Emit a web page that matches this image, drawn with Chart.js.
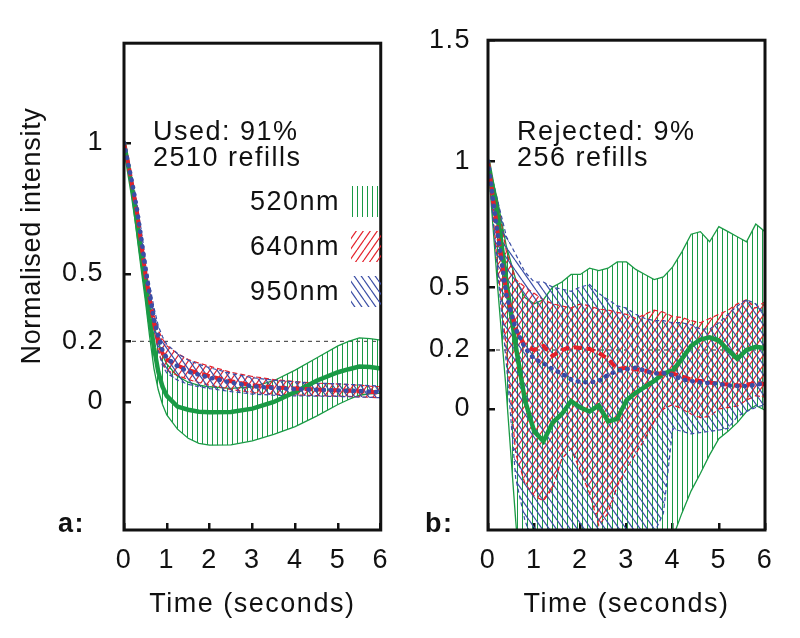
<!DOCTYPE html>
<html>
<head>
<meta charset="utf-8">
<script src="https://cdn.jsdelivr.net/npm/chart.js"></script>
<style>
  body { margin: 0; background: #fff; }
  #wrap { position: relative; width: 800px; height: 638px; }
  canvas { position: absolute; top: 0; }
  #chartA { left: 0; }
  #chartB { left: 410px; }
</style>
</head>
<body>
<div id="wrap">
  <canvas id="chartA" width="410" height="638"></canvas>
  <canvas id="chartB" width="390" height="638"></canvas>
</div>
<script>
// ---- panel a: used refills ----
const timeA = [0, 0.1, 0.2, 0.3, 0.4, 0.5, 0.6, 0.7, 0.8, 0.9, 1.0, 1.25, 1.5, 1.75, 2, 2.5, 3, 3.5, 4, 4.5, 5, 5.25, 5.5, 5.75, 6];
const greenMeanA  = [1, 0.91, 0.81, 0.7, 0.58, 0.46, 0.3, 0.18, 0.1, 0.05, 0.02, -0.018, -0.03, -0.038, -0.04, -0.039, -0.026, 0.0, 0.033, 0.07, 0.098, 0.108, 0.117, 0.115, 0.11];
const greenUpperA = [1, 0.92, 0.83, 0.73, 0.62, 0.5, 0.38, 0.27, 0.2, 0.155, 0.125, 0.085, 0.065, 0.055, 0.05, 0.045, 0.05, 0.07, 0.105, 0.145, 0.185, 0.2, 0.215, 0.212, 0.205];
const greenLowerA = [1, 0.9, 0.78, 0.65, 0.52, 0.38, 0.22, 0.11, 0.04, -0.01, -0.05, -0.105, -0.14, -0.16, -0.167, -0.166, -0.15, -0.125, -0.095, -0.055, -0.01, 0.008, 0.022, 0.027, 0.029];
const redMeanA  = [1, 0.92, 0.83, 0.74, 0.62, 0.5, 0.39, 0.28, 0.2, 0.16, 0.14, 0.12, 0.105, 0.095, 0.085, 0.068, 0.055, 0.048, 0.044, 0.041, 0.038, 0.037, 0.035, 0.033, 0.031];
const redUpperA = [1, 0.93, 0.85, 0.76, 0.65, 0.53, 0.42, 0.32, 0.25, 0.21, 0.185, 0.16, 0.14, 0.128, 0.118, 0.098, 0.084, 0.074, 0.067, 0.062, 0.059, 0.057, 0.055, 0.052, 0.05];
const redLowerA = [1, 0.91, 0.81, 0.71, 0.59, 0.47, 0.36, 0.25, 0.17, 0.125, 0.105, 0.087, 0.074, 0.064, 0.055, 0.041, 0.031, 0.026, 0.023, 0.021, 0.019, 0.018, 0.017, 0.015, 0.014];
const blueMeanA  = [1, 0.92, 0.84, 0.75, 0.64, 0.52, 0.41, 0.3, 0.22, 0.17, 0.145, 0.118, 0.1, 0.09, 0.08, 0.064, 0.052, 0.046, 0.042, 0.04, 0.038, 0.037, 0.036, 0.034, 0.032];
const blueUpperA = [1, 0.93, 0.86, 0.77, 0.67, 0.56, 0.45, 0.35, 0.27, 0.22, 0.19, 0.16, 0.138, 0.124, 0.113, 0.094, 0.08, 0.072, 0.066, 0.062, 0.06, 0.058, 0.056, 0.054, 0.052];
const blueLowerA = [1, 0.91, 0.82, 0.72, 0.61, 0.48, 0.37, 0.26, 0.17, 0.12, 0.095, 0.072, 0.058, 0.05, 0.044, 0.034, 0.026, 0.022, 0.02, 0.019, 0.018, 0.017, 0.016, 0.015, 0.014];

// ---- panel b: rejected refills ----
const timeB = [0, 0.2, 0.4, 0.6, 0.8, 1.0, 1.2, 1.4, 1.6, 1.8, 2.0, 2.2, 2.4, 2.6, 2.8, 3.0, 3.2, 3.4, 3.6, 3.8, 4.0, 4.2, 4.4, 4.6, 4.8, 5.0, 5.2, 5.4, 5.6, 5.8, 6.0];
const greenMeanB  = [1, 0.8, 0.52, 0.22, 0.03, -0.09, -0.13, -0.055, -0.02, 0.027, 0.005, -0.01, 0.012, -0.05, -0.04, 0.03, 0.055, 0.075, 0.095, 0.12, 0.13, 0.17, 0.22, 0.25, 0.26, 0.245, 0.2, 0.17, 0.2, 0.215, 0.21];
const greenUpperB = [1, 0.85, 0.66, 0.53, 0.45, 0.42, 0.44, 0.5, 0.52, 0.55, 0.55, 0.575, 0.565, 0.575, 0.6, 0.6, 0.57, 0.55, 0.53, 0.54, 0.58, 0.64, 0.71, 0.72, 0.68, 0.74, 0.72, 0.7, 0.68, 0.75, 0.72];
const greenLowerB = [1, 0.52, 0.05, -0.45, -0.9, -0.95, -1.0, -1.0, -0.98, -0.95, -0.95, -0.97, -1.0, -0.98, -0.95, -0.9, -0.85, -0.8, -0.72, -0.6, -0.52, -0.42, -0.33, -0.26, -0.185, -0.12, -0.09, -0.055, -0.01, 0.012, -0.005];
const redMeanB  = [1, 0.73, 0.47, 0.3, 0.22, 0.2, 0.22, 0.18, 0.2, 0.215, 0.21, 0.205, 0.19, 0.17, 0.135, 0.14, 0.135, 0.13, 0.12, 0.12, 0.12, 0.11, 0.1, 0.095, 0.09, 0.085, 0.083, 0.08, 0.082, 0.088, 0.085];
const redUpperB = [1, 0.84, 0.64, 0.53, 0.5, 0.47, 0.44, 0.42, 0.41, 0.4, 0.42, 0.41, 0.395, 0.39, 0.38, 0.37, 0.35, 0.37, 0.39, 0.38, 0.36, 0.355, 0.34, 0.33, 0.35, 0.37, 0.39, 0.42, 0.44, 0.4, 0.43];
const redLowerB = [1, 0.6, 0.2, -0.18, -0.3, -0.35, -0.37, -0.32, -0.2, -0.16, -0.25, -0.34, -0.47, -0.42, -0.31, -0.24, -0.18, -0.12, -0.05, 0.0, 0.015, 0.0, -0.02, -0.035, -0.03, 0.0, 0.005, 0.01, 0.03, 0.045, 0.04];
const blueMeanB  = [1, 0.72, 0.46, 0.3, 0.21, 0.17, 0.155, 0.135, 0.12, 0.1, 0.092, 0.09, 0.095, 0.115, 0.13, 0.135, 0.14, 0.13, 0.12, 0.122, 0.115, 0.1, 0.095, 0.09, 0.088, 0.085, 0.08, 0.078, 0.078, 0.082, 0.088];
const blueUpperB = [1, 0.85, 0.7, 0.63, 0.56, 0.52, 0.52, 0.5, 0.49, 0.48, 0.5, 0.51, 0.47, 0.44, 0.41, 0.4, 0.37, 0.35, 0.34, 0.34, 0.33, 0.33, 0.32, 0.3, 0.3, 0.33, 0.37, 0.41, 0.44, 0.42, 0.37];
const blueLowerB = [1, 0.58, 0.15, -0.28, -0.45, -0.55, -0.6, -0.62, -0.6, -0.6, -0.62, -0.6, -0.6, -0.58, -0.58, -0.56, -0.55, -0.52, -0.5, -0.42, -0.08, -0.09, -0.1, -0.095, -0.09, -0.085, -0.078, -0.03, -0.01, 0.005, 0.015];

const xTicks = [0, 1, 2, 3, 4, 5, 6];
const yTicksA = [0, 0.2, 0.5, 1];
const yTicksB = [0, 0.2, 0.5, 1, 1.5];
const refLevel = 0.2;
const seriesNames = ['520nm', '640nm', '950nm'];

const FONT = '"Liberation Sans", Arial, Helvetica, sans-serif';
const INK = '#111111';
const GREEN = '#1a9a45';
const RED = '#e4202a';
const BLUE = '#3a4ea6';

Chart.defaults.font.family = FONT;
Chart.defaults.font.size = 27;
Chart.defaults.color = INK;

// The original y axis is not evenly spaced between its ticks,
// so the scale maps values piecewise between these knots.
class WarpScale extends Chart.LinearScale {
    toDecimal(v) {
        const vals = this.options.knotValues;
        const fr = this.options.knotFracs;
        let i = 1;
        while (i < vals.length - 1 && v > vals[i]) i++;
        return fr[i - 1] + (v - vals[i - 1]) * (fr[i] - fr[i - 1]) / (vals[i] - vals[i - 1]);
    }
    getPixelForValue(v) {
        if (v === null || v === undefined || isNaN(v)) return NaN;
        return this.getPixelForDecimal(this.toDecimal(v));
    }
    getValueForPixel(p) {
        const d = this.getDecimalForPixel(p);
        const vals = this.options.knotValues;
        const fr = this.options.knotFracs;
        let i = 1;
        while (i < fr.length - 1 && d > fr[i]) i++;
        return vals[i - 1] + (d - fr[i - 1]) * (vals[i] - vals[i - 1]) / (fr[i] - fr[i - 1]);
    }
}
WarpScale.id = 'warp';
WarpScale.defaults = Chart.LinearScale.defaults;
Chart.register(WarpScale);

// Hatch patterns
function hatch(color, kind) {
    const c = document.createElement('canvas');
    const w = kind === 'v' ? 5 : 7;
    const h = kind === 'v' ? 5 : 10;
    c.width = w; c.height = h;
    const g = c.getContext('2d');
    g.strokeStyle = color;
    g.fillStyle = color;
    if (kind === 'v') {
        g.fillRect(2, 0, 1, h);
    } else {
        g.lineWidth = 1.25;
        for (let k = -1; k <= 1; k++) {
            g.beginPath();
            if (kind === '/') { g.moveTo(k * w, h); g.lineTo(k * w + w, 0); }
            else { g.moveTo(k * w, 0); g.lineTo(k * w + w, h); }
            g.stroke();
        }
    }
    return g.createPattern(c, 'repeat');
}
const greenHatch = hatch(GREEN, 'v');
const redHatch = hatch(RED, '/');
const blueHatch = hatch(BLUE, '\\');

function band(upper, lower, color, pattern, dash, width) {
    return [
        { data: upper, borderColor: color, borderWidth: width, borderDash: dash, backgroundColor: pattern, fill: '+1' },
        { data: lower, borderColor: color, borderWidth: width, borderDash: dash, fill: false }
    ];
}

function buildDatasets(g, r, b) {
    // first dataset is drawn on top
    return [
        { data: b.mean, borderColor: BLUE, borderWidth: 4.5, borderDash: [0.5, 7], borderCapStyle: 'round', fill: false },
        { data: r.mean, borderColor: RED, borderWidth: 4, borderDash: [8, 5], fill: false },
        { data: g.mean, borderColor: GREEN, borderWidth: 4.5, fill: false },
        ...band(b.upper, b.lower, BLUE, blueHatch, [4, 3], 1.2),
        ...band(r.upper, r.lower, RED, redHatch, [5, 3], 1.2),
        ...band(g.upper, g.lower, GREEN, greenHatch, [], 1.3)
    ];
}

const spacing = {
    id: 'spacing',
    beforeUpdate(chart) { chart.ctx.letterSpacing = '1.5px'; },
    beforeDraw(chart) { chart.ctx.letterSpacing = '1.5px'; }
};

function text(ctx, s, x, y, align, bold) {
    ctx.save();
    ctx.font = (bold ? 'bold ' : '') + '27px ' + FONT;
    ctx.fillStyle = INK;
    ctx.textAlign = align || 'left';
    ctx.textBaseline = 'alphabetic';
    ctx.fillText(s, x, y);
    ctx.restore();
}

function framePlugin(extra) {
    return {
        id: 'frame',
        beforeDatasetsDraw(chart) {
            const { ctx, chartArea } = chart;
            const y = chart.scales.y.getPixelForValue(refLevel);
            ctx.save();
            ctx.strokeStyle = '#333';
            ctx.lineWidth = 1;
            ctx.setLineDash([4, 4]);
            ctx.beginPath();
            ctx.moveTo(chartArea.left, y);
            ctx.lineTo(chartArea.right, y);
            ctx.stroke();
            ctx.restore();
        },
        afterDatasetsDraw(chart) {
            const { ctx, chartArea } = chart;
            ctx.save();
            ctx.strokeStyle = INK;
            ctx.lineWidth = 3;
            ctx.strokeRect(chartArea.left, chartArea.top, chartArea.right - chartArea.left, chartArea.bottom - chartArea.top);
            ctx.restore();
        },
        afterDraw(chart) { extra(chart.ctx); }
    };
}

function makeOptions(yKnots, yFracs, yTicks, yWidth, padRight, tickPad) {
    return {
        responsive: false,
        animation: false,
        layout: { padding: { left: 0, right: padRight, top: 32, bottom: 0 } },
        plugins: { legend: { display: false }, tooltip: { enabled: false } },
        elements: { point: { radius: 0 }, line: { tension: 0 } },
        scales: {
            x: {
                type: 'linear', min: 0, max: 6,
                afterBuildTicks: s => { s.ticks = xTicks.map(v => ({ value: v })); },
                afterFit: s => { s.height = 108; },
                border: { display: false },
                grid: { drawOnChartArea: false, drawTicks: true, tickLength: -7, color: INK, lineWidth: 2.5 },
                ticks: { padding: 21, maxRotation: 0 },
                title: { display: true, text: 'Time (seconds)', padding: { top: 0, bottom: 17 } }
            },
            y: {
                type: 'warp',
                min: yKnots[0], max: yKnots[yKnots.length - 1],
                knotValues: yKnots, knotFracs: yFracs,
                afterBuildTicks: s => { s.ticks = yTicks.map(v => ({ value: v })); },
                afterFit: s => { s.width = yWidth; },
                border: { display: false },
                grid: { drawOnChartArea: false, drawTicks: true, tickLength: -7, color: INK, lineWidth: 2.5 },
                ticks: { padding: tickPad, callback: v => String(v) }
            }
        }
    };
}

// Panel a
new Chart(document.getElementById('chartA'), {
    type: 'line',
    data: {
        labels: timeA,
        datasets: buildDatasets(
            { mean: greenMeanA, upper: greenUpperA, lower: greenLowerA },
            { mean: redMeanA, upper: redUpperA, lower: redLowerA },
            { mean: blueMeanA, upper: blueUpperA, lower: blueLowerA })
    },
    options: makeOptions([-0.494, 0, 0.2, 0.5, 1, 1.385], [0, 0.2631, 0.3876, 0.5261, 0.7952, 1], yTicksA, 124, 8, 27),
    plugins: [spacing, framePlugin(function(ctx) {
        text(ctx, 'Used: 91%', 153, 140);
        text(ctx, '2510 refills', 153, 166);
        const hatches = [greenHatch, redHatch, blueHatch];
        const rows = [201, 246, 291];
        seriesNames.forEach((name, i) => {
            text(ctx, name, 340, rows[i] + 9, 'right');
            ctx.save();
            ctx.fillStyle = hatches[i];
            ctx.fillRect(351, rows[i] - 15, 30, 31);
            ctx.restore();
        });
        text(ctx, 'a:', 58, 532, 'left', true);
        ctx.save();
        ctx.translate(33, 236);
        ctx.rotate(-Math.PI / 2);
        ctx.letterSpacing = '0.7px';
        ctx.font = '27px ' + FONT;
        ctx.fillStyle = INK;
        ctx.textAlign = 'center';
        ctx.textBaseline = 'middle';
        ctx.fillText('Normalised intensity', 0, 0);
        ctx.restore();
    })]
});

// Panel b
new Chart(document.getElementById('chartB'), {
    type: 'line',
    data: {
        labels: timeB,
        datasets: buildDatasets(
            { mean: greenMeanB, upper: greenUpperB, lower: greenLowerB },
            { mean: redMeanB, upper: redUpperB, lower: redLowerB },
            { mean: blueMeanB, upper: blueUpperB, lower: blueLowerB })
    },
    options: makeOptions([-0.488, 0, 0.2, 0.5, 1, 1.5], [0, 0.247, 0.3675, 0.496, 0.753, 1], yTicksB, 78, 35, 24),
    plugins: [spacing, framePlugin(function(ctx) {
        text(ctx, 'Rejected: 9%', 107, 140);
        text(ctx, '256 refills', 107, 166);
        text(ctx, 'b:', 15, 532, 'left', true);
    })]
});
</script>
</body>
</html>
